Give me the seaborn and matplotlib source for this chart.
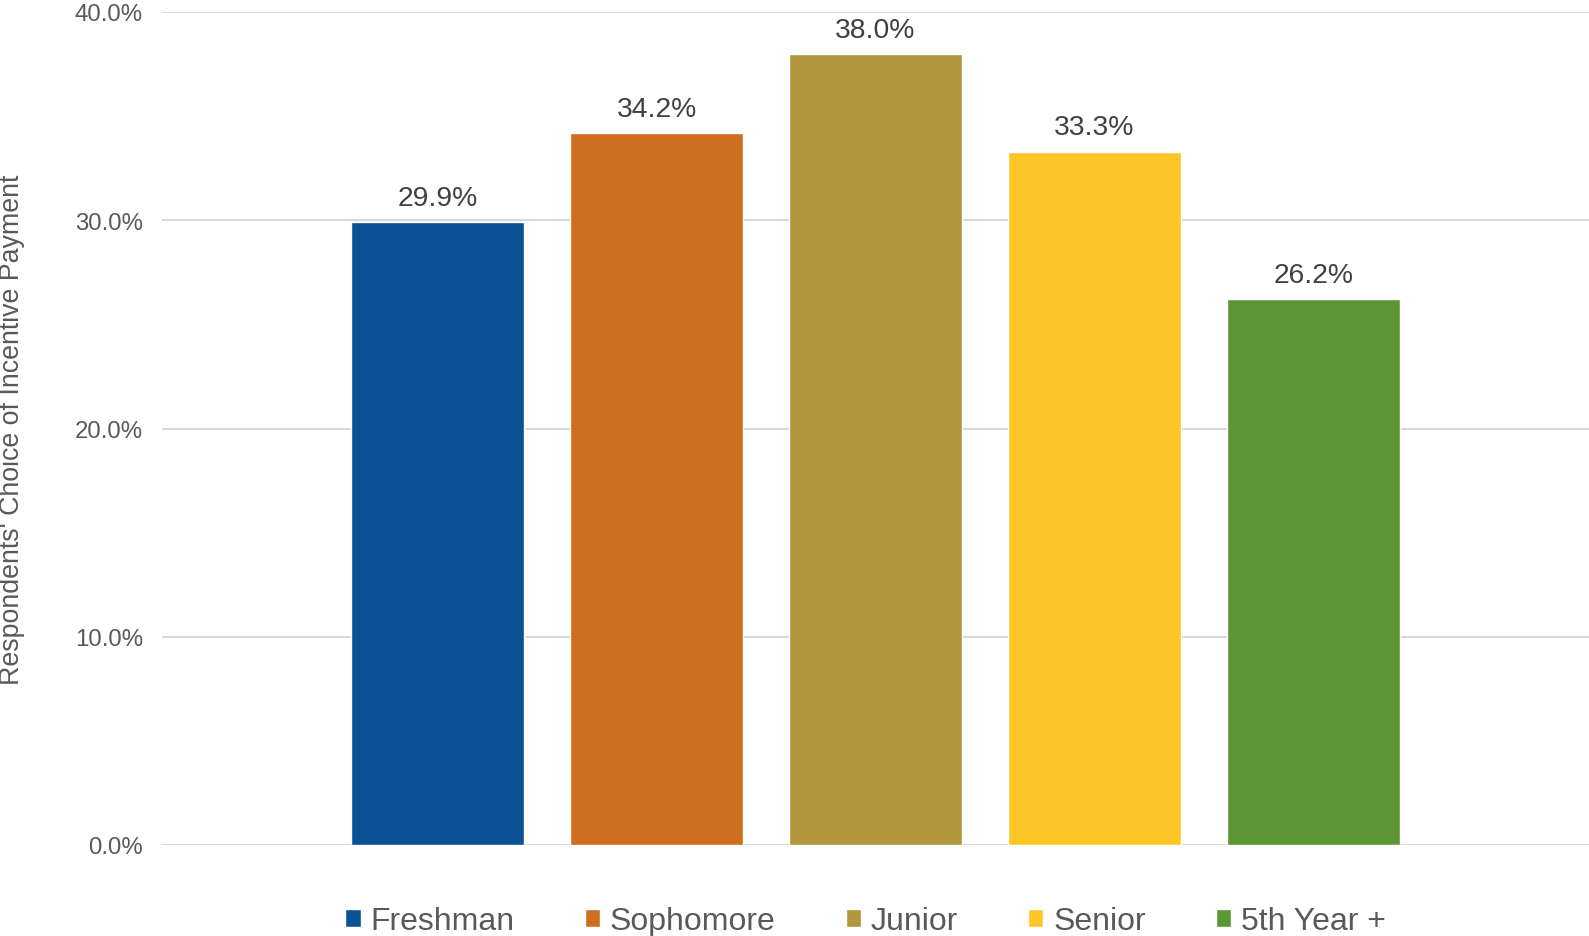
import matplotlib
matplotlib.use("Agg")
import matplotlib.pyplot as plt
import seaborn as sns
import pandas as pd

# Share of respondents choosing an incentive payment, by class year
classes = ["Freshman", "Sophomore", "Junior", "Senior", "5th Year +"]
shares = [29.9, 34.2, 38.0, 33.3, 26.2]
colors = ["#0A5296", "#CF6E1C", "#B0963C", "#FEC526", "#5C9733"]
y_ticks = [0, 10, 20, 30, 40]

sns.set_theme(style="white")
plt.rcParams["font.family"] = ["Liberation Sans", "DejaVu Sans"]

df = pd.DataFrame({"Class": classes, "Share": shares})

W, H = 1589, 937
left, right, top, bottom = 162, 1589, 13, 846
fig = plt.figure(figsize=(W / 100, H / 100), dpi=100)
ax = fig.add_axes([left / W, 1 - bottom / H, (right - left) / W, (bottom - top) / H])

sns.barplot(data=df, x="Class", y="Share", hue="Class", palette=colors,
            hue_order=classes, order=classes, width=0.79, dodge=False,
            saturation=1, legend=True, ax=ax, zorder=3)

for cont in ax.containers:
    ax.bar_label(cont, labels=[f"{v:.1f}%" for v in cont.datavalues],
                 padding=8, fontsize=20.3, color="#404040")

ax.set_ylim(0, 40)
ax.set_xlim(-1.26, 5.26)
ax.set_yticks(y_ticks)
ax.set_yticklabels([f"{v:.1f}%" for v in y_ticks], fontsize=17.3, color="#595959")
ax.tick_params(axis="y", length=0, pad=13.7)
ax.set_xticks([])
ax.set_xlabel("")
ax.set_ylabel("Respondents' Choice of Incentive Payment", fontsize=19.3,
              color="#595959")
ax.yaxis.set_label_coords(-0.096, 0.5)
ax.yaxis.grid(True, color="#D9D9D9", linewidth=1.5, zorder=0)
ax.set_axisbelow(True)
for s in ax.spines.values():
    s.set_visible(False)

sns.move_legend(ax, "center", bbox_to_anchor=(0.493, -0.0912), ncol=5,
                frameon=False, title=None, fontsize=23, handlelength=0.48,
                handleheight=0.48, handletextpad=0.3, columnspacing=2.2,
                labelcolor="#595959")

fig.savefig("out.png", dpi=100)
